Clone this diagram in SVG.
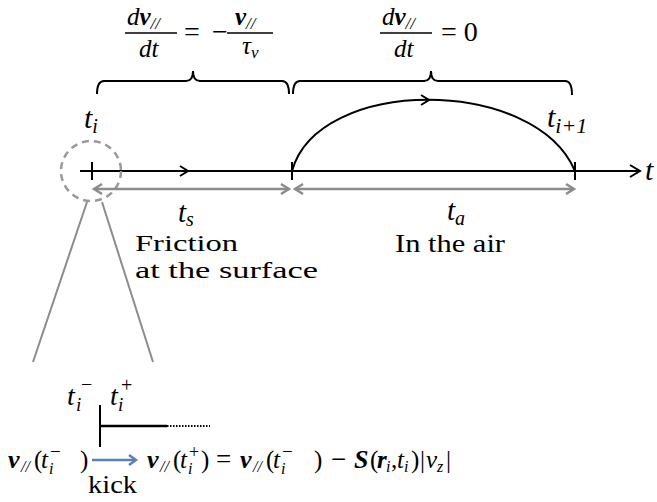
<svg xmlns="http://www.w3.org/2000/svg" width="657" height="502" viewBox="0 0 657 502" font-family="'Liberation Serif', Tinos, 'Times New Roman', 'DejaVu Serif', serif">
<style>
text{font-family:'Liberation Serif',Tinos,'Times New Roman','DejaVu Serif',serif;fill:#000}
.m{font-style:italic}
.b{font-style:italic;font-weight:bold}
.k{stroke:#000;stroke-width:2;fill:none}
.g{stroke:#8c8c8c;stroke-width:2.5;fill:none}
.bl{stroke:#5b80b8;stroke-width:2.5;fill:none}
</style>
<rect width="657" height="502" fill="#fff"/>
<g id="eq-surface" font-size="25">
  <text x="127" y="25"><tspan class="m">d</tspan><tspan class="b">v</tspan><tspan class="m" font-size="17" dy="4">//</tspan></text>
  <line x1="125" y1="33" x2="177" y2="33" stroke="#000" stroke-width="1.3"/>
  <text x="139" y="57" class="m">dt</text>
  <text x="184" y="41" font-size="28">=</text>
  <text x="212" y="41" font-size="28">−</text>
  <text x="235" y="25"><tspan class="b">v</tspan><tspan class="m" font-size="17" dy="4">//</tspan></text>
  <line x1="227" y1="33" x2="273" y2="33" stroke="#000" stroke-width="1.3"/>
  <text x="242" y="54"><tspan class="m">τ</tspan><tspan class="m" font-size="17" dy="4">v</tspan></text>
</g>
<g id="eq-air" font-size="25">
  <text x="382" y="25"><tspan class="m">d</tspan><tspan class="b">v</tspan><tspan class="m" font-size="17" dy="4">//</tspan></text>
  <line x1="380" y1="33" x2="432" y2="33" stroke="#000" stroke-width="1.3"/>
  <text x="394" y="57" class="m">dt</text>
  <text x="441" y="41" font-size="28">= 0</text>
</g>
<g id="braces">
  <path class="k" d="M97,94 Q97,81 104,81 L186,81 Q193,81 193,71 Q193,81 200,81 L282,81 Q289,81 289,94"/>
  <path class="k" d="M293,94 Q293,81 300,81 L424,81 Q431,81 431,71 Q431,81 438,81 L565,81 Q572,81 572,95"/>
</g>
<g id="timeline">
  <line class="k" x1="80" y1="171" x2="639" y2="171"/>
  <polyline class="k" points="630,165 640,171 630,177"/>
  <polyline class="k" points="180,166 188,171 180,176"/>
  <line class="k" x1="92" y1="162" x2="92" y2="180"/>
  <line class="k" x1="292" y1="162" x2="292" y2="180"/>
  <line class="k" x1="575" y1="162" x2="575" y2="180"/>
  <text x="645" y="180" class="m" font-size="30">t</text>
</g>
<g id="flight">
  <path class="k" d="M292,171 C318,76 535,76 575,171"/>
  <polyline class="k" points="421,95 429,100 421,105"/>
</g>
<g id="ti-marker">
  <circle cx="91" cy="171" r="30" fill="none" stroke="#999" stroke-width="2.5" stroke-dasharray="7,5"/>
  <text x="84" y="128" class="m" font-size="30">t<tspan font-size="20" dy="5">i</tspan></text>
</g>
<g id="ti1-label">
  <text x="547" y="127" class="m" font-size="30">t<tspan font-size="22" dy="6">i+1</tspan></text>
</g>
<g id="durations">
  <line class="g" x1="95" y1="189" x2="289" y2="189"/>
  <polyline class="g" points="102,184 94,189 102,194"/>
  <polyline class="g" points="281,184 289,189 281,194"/>
  <line class="g" x1="296" y1="189" x2="573" y2="189"/>
  <polyline class="g" points="303,184 295,189 303,194"/>
  <polyline class="g" points="566,184 574,189 566,194"/>
</g>
<g id="surface-label" font-size="24">
  <text x="178" y="222" class="m" font-size="29">t<tspan font-size="20" dy="4">s</tspan></text>
  <text x="135" y="251" textLength="103" lengthAdjust="spacingAndGlyphs">Friction</text>
  <text x="135" y="278" textLength="183" lengthAdjust="spacingAndGlyphs">at the surface</text>
</g>
<g id="air-label" font-size="25">
  <text x="447" y="220" class="m" font-size="29">t<tspan font-size="20" dy="5">a</tspan></text>
  <text x="395" y="252" textLength="110" lengthAdjust="spacingAndGlyphs">In the air</text>
</g>
<g id="zoom-lines">
  <line x1="87" y1="202" x2="33" y2="362" stroke="#8c8c8c" stroke-width="2"/>
  <line x1="102" y1="202" x2="153" y2="362" stroke="#8c8c8c" stroke-width="2"/>
</g>
<g id="kick-detail">
  <text x="67" y="405" class="m" font-size="28">t</text>
  <text x="81" y="391" font-size="20">−</text>
  <text x="76" y="411" class="m" font-size="19">i</text>
  <text x="110" y="405" class="m" font-size="28">t</text>
  <text x="121" y="392" font-size="20">+</text>
  <text x="118" y="411" class="m" font-size="19">i</text>
  <line class="k" x1="100" y1="405" x2="100" y2="447"/>
  <line x1="100" y1="426" x2="167" y2="426" stroke="#000" stroke-width="2.5"/>
  <line x1="167" y1="426" x2="210" y2="426" stroke="#000" stroke-width="2" stroke-dasharray="1.5,1.5"/>
</g>
<g id="kick-eq" font-size="25">
  <text y="468"><tspan x="8" class="b" font-size="26">v</tspan><tspan x="21" y="472" class="m" font-size="16">//</tspan><tspan x="34" y="468">(</tspan><tspan x="41" class="m">t</tspan><tspan x="50" y="458" font-size="19">−</tspan><tspan x="49" y="474" class="m" font-size="16">i</tspan><tspan x="80" y="468">)</tspan></text>
  <line class="bl" x1="92" y1="460" x2="135" y2="460"/>
  <polyline class="bl" points="129,455 136,460 129,465"/>
  <text x="88" y="493" font-size="25" textLength="49" lengthAdjust="spacingAndGlyphs">kick</text>
  <text y="468"><tspan x="147" class="b" font-size="26">v</tspan><tspan x="160" y="472" class="m" font-size="16">//</tspan><tspan x="173" y="468">(</tspan><tspan x="180" class="m">t</tspan><tspan x="189" y="458" font-size="18">+</tspan><tspan x="188" y="474" class="m" font-size="16">i</tspan><tspan x="201" y="468">)</tspan><tspan x="216" font-size="27">=</tspan><tspan x="240" class="b" font-size="26">v</tspan><tspan x="253" y="472" class="m" font-size="16">//</tspan><tspan x="266" y="468">(</tspan><tspan x="273" class="m">t</tspan><tspan x="282" y="458" font-size="19">−</tspan><tspan x="281" y="474" class="m" font-size="16">i</tspan><tspan x="314" y="468">)</tspan><tspan x="331" font-size="27">−</tspan><tspan x="354" class="b" font-size="26">S</tspan><tspan x="370">(</tspan><tspan x="377" class="b">r</tspan><tspan x="386" y="472" class="m" font-size="16">i</tspan><tspan x="391" y="468">,</tspan><tspan x="397" class="m">t</tspan><tspan x="404" y="472" class="m" font-size="16">i</tspan><tspan x="411" y="468">)</tspan><tspan x="420">|</tspan><tspan x="426" class="m">v</tspan><tspan x="437" y="472" class="m" font-size="16">z</tspan><tspan x="446" y="468">|</tspan></text>
</g>
</svg>
